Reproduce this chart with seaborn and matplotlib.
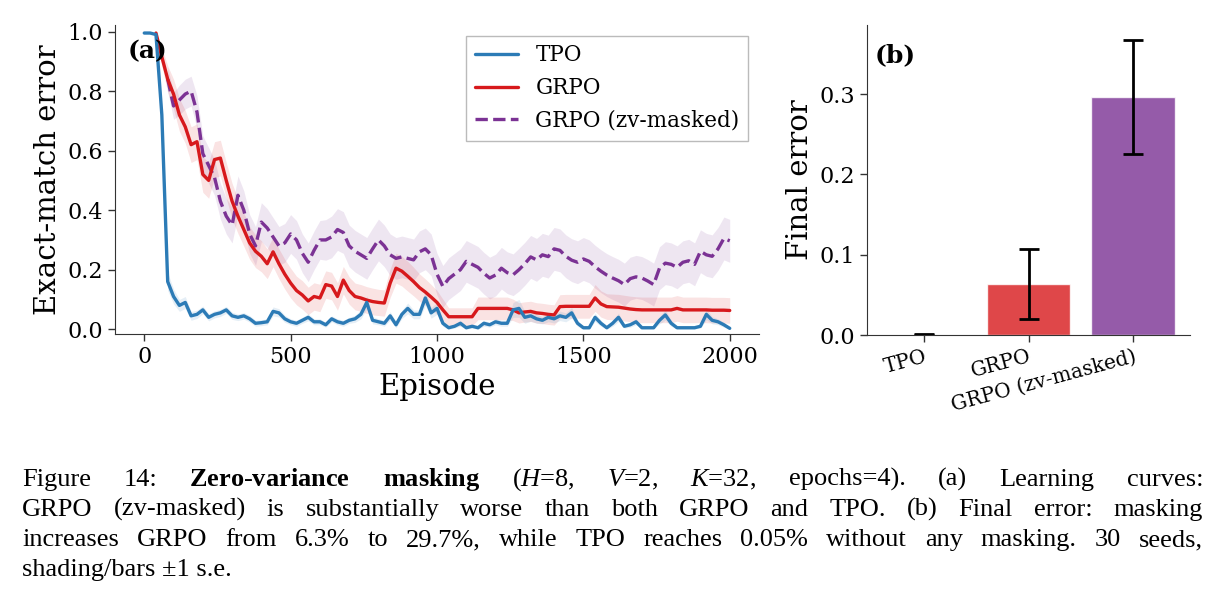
#!/usr/bin/env python3
"""
Zero-variance masking: learning curves (a) and final error bars (b)
"""

import numpy as np
import pandas as pd
import matplotlib
matplotlib.use("Agg")
import matplotlib.pyplot as plt
import seaborn as sns

# ---- Datos ----
episodes = np.arange(0, 2001, 20)

tpo_err = [
    0.995, 0.995, 0.99, 0.72, 0.16, 0.11, 0.08, 0.09, 0.045, 0.05,
    0.065, 0.04, 0.05, 0.055, 0.065, 0.045, 0.04, 0.045, 0.035, 0.02,
    0.022, 0.025, 0.06, 0.055, 0.035, 0.025, 0.02, 0.03, 0.04, 0.025,
    0.025, 0.015, 0.035, 0.025, 0.02, 0.03, 0.035, 0.05, 0.09, 0.03,
    0.025, 0.02, 0.045, 0.015, 0.05, 0.07, 0.05, 0.05, 0.105, 0.055,
    0.07, 0.02, 0.005, 0.01, 0.02, 0.005, 0.01, 0.005, 0.02, 0.015,
    0.025, 0.02, 0.02, 0.065, 0.07, 0.04, 0.045, 0.035, 0.03, 0.04,
    0.035, 0.045, 0.04, 0.055, 0.02, 0.005, 0.005, 0.04, 0.02, 0.005,
    0.02, 0.04, 0.01, 0.015, 0.025, 0.005, 0.005, 0.005, 0.03, 0.048,
    0.02, 0.005, 0.005, 0.005, 0.005, 0.01, 0.05, 0.03, 0.025, 0.015,
    0.003,
]
tpo_se = [
    0.002, 0.002, 0.004, 0.03, 0.03, 0.025, 0.02, 0.02, 0.015, 0.014,
    0.013, 0.012, 0.012, 0.012, 0.012, 0.012, 0.011, 0.011, 0.011, 0.01,
    0.01, 0.01, 0.015, 0.014, 0.012, 0.01, 0.01, 0.01, 0.012, 0.01,
    0.01, 0.008, 0.01, 0.01, 0.01, 0.01, 0.012, 0.015, 0.022, 0.012,
    0.01, 0.01, 0.014, 0.01, 0.014, 0.018, 0.015, 0.015, 0.025, 0.018,
    0.02, 0.01, 0.005, 0.006, 0.01, 0.005, 0.006, 0.005, 0.01, 0.008,
    0.01, 0.01, 0.01, 0.025, 0.03, 0.02, 0.018, 0.015, 0.012, 0.015,
    0.014, 0.016, 0.015, 0.018, 0.01, 0.005, 0.005, 0.014, 0.01, 0.005,
    0.01, 0.014, 0.006, 0.008, 0.01, 0.004, 0.004, 0.004, 0.012, 0.018,
    0.01, 0.004, 0.004, 0.004, 0.004, 0.006, 0.018, 0.012, 0.01, 0.008,
    0.002,
]

# GRPO empieza en el episodio 40
grpo_ep = episodes[2:]
grpo_err = [
    0.995, 0.915, 0.84, 0.79, 0.72, 0.68, 0.62, 0.63, 0.52, 0.50,
    0.57, 0.575, 0.50, 0.43, 0.38, 0.335, 0.29, 0.262, 0.245, 0.22,
    0.26, 0.22, 0.185, 0.155, 0.13, 0.115, 0.095, 0.11, 0.105, 0.15,
    0.145, 0.11, 0.165, 0.13, 0.11, 0.105, 0.098, 0.093, 0.09, 0.088,
    0.155, 0.205, 0.195, 0.178, 0.16, 0.14, 0.125, 0.108, 0.09, 0.065,
    0.042, 0.042, 0.042, 0.042, 0.042, 0.07, 0.07, 0.07, 0.07, 0.07,
    0.07, 0.065, 0.055, 0.058, 0.06, 0.055, 0.053, 0.05, 0.048, 0.076,
    0.077, 0.077, 0.077, 0.077, 0.077, 0.105, 0.085, 0.076, 0.075, 0.074,
    0.071, 0.068, 0.066, 0.065, 0.065, 0.065, 0.065, 0.065, 0.065, 0.07,
    0.065, 0.065, 0.065, 0.065, 0.065, 0.064, 0.064, 0.064, 0.063,
]
grpo_se = [
    0.005, 0.03, 0.045, 0.05, 0.055, 0.055, 0.06, 0.06, 0.06, 0.06,
    0.06, 0.06, 0.06, 0.06, 0.058, 0.056, 0.055, 0.055, 0.052, 0.05,
    0.05, 0.05, 0.05, 0.05, 0.048, 0.048, 0.046, 0.046, 0.046, 0.046,
    0.046, 0.046, 0.046, 0.046, 0.045, 0.045, 0.045, 0.045, 0.044, 0.044,
    0.048, 0.05, 0.05, 0.05, 0.048, 0.046, 0.044, 0.042, 0.04, 0.036,
    0.03, 0.03, 0.03, 0.03, 0.03, 0.038, 0.038, 0.038, 0.038, 0.038,
    0.038, 0.036, 0.034, 0.034, 0.034, 0.034, 0.034, 0.034, 0.034, 0.04,
    0.04, 0.04, 0.04, 0.04, 0.04, 0.045, 0.044, 0.043, 0.043, 0.043,
    0.043, 0.043, 0.043, 0.043, 0.043, 0.043, 0.043, 0.043, 0.043, 0.043,
    0.043, 0.043, 0.043, 0.043, 0.043, 0.043, 0.043, 0.043, 0.043,
]

# GRPO (zv-masked) empieza en el episodio 80
zv_ep = episodes[4:]
zv_err = [
    0.84, 0.75, 0.77, 0.79, 0.80, 0.73, 0.59, 0.55, 0.51, 0.43,
    0.38, 0.35, 0.45, 0.40, 0.32, 0.28, 0.36, 0.34, 0.31, 0.28,
    0.29, 0.32, 0.30, 0.255, 0.225, 0.265, 0.30, 0.30, 0.31, 0.335,
    0.325, 0.28, 0.262, 0.25, 0.238, 0.27, 0.30, 0.28, 0.25, 0.238,
    0.243, 0.238, 0.233, 0.26, 0.27, 0.25, 0.185, 0.144, 0.17, 0.185,
    0.20, 0.228, 0.218, 0.208, 0.188, 0.172, 0.182, 0.205, 0.19, 0.183,
    0.20, 0.22, 0.243, 0.233, 0.25, 0.244, 0.27, 0.265, 0.245, 0.232,
    0.225, 0.236, 0.228, 0.21, 0.195, 0.182, 0.172, 0.163, 0.15, 0.17,
    0.176, 0.172, 0.162, 0.15, 0.205, 0.222, 0.218, 0.208, 0.225, 0.23,
    0.218, 0.262, 0.25, 0.245, 0.27, 0.305, 0.297,
]
zv_se = [
    0.04, 0.045, 0.05, 0.05, 0.05, 0.055, 0.06, 0.06, 0.06, 0.06,
    0.06, 0.06, 0.065, 0.065, 0.065, 0.065, 0.065, 0.065, 0.065, 0.065,
    0.065, 0.065, 0.065, 0.065, 0.065, 0.065, 0.065, 0.068, 0.07, 0.07,
    0.07, 0.07, 0.07, 0.07, 0.07, 0.07, 0.07, 0.07, 0.07, 0.07,
    0.07, 0.07, 0.07, 0.07, 0.07, 0.07, 0.07, 0.07, 0.07, 0.07,
    0.07, 0.07, 0.07, 0.07, 0.07, 0.07, 0.07, 0.07, 0.07, 0.07,
    0.072, 0.072, 0.072, 0.072, 0.072, 0.072, 0.072, 0.072, 0.072, 0.072,
    0.072, 0.072, 0.072, 0.072, 0.072, 0.072, 0.072, 0.072, 0.072, 0.072,
    0.072, 0.072, 0.072, 0.072, 0.072, 0.072, 0.072, 0.072, 0.072, 0.072,
    0.072, 0.072, 0.072, 0.072, 0.072, 0.072, 0.072,
]

methods = ["TPO", "GRPO", "GRPO (zv-masked)"]
final_err = [0.0005, 0.063, 0.296]
final_se = [0.0005, 0.0435, 0.071]

colors = {"TPO": "#2c7bb6", "GRPO": "#d7191c", "GRPO (zv-masked)": "#7b3294"}

caption_lines = [
    r"Figure 14:  $\mathbf{Zero}$-$\mathbf{variance}$ $\mathbf{masking}$ ($H$=8, $V$=2, $K$=32, epochs=4).  (a) Learning curves:",
    "GRPO (zv-masked) is substantially worse than both GRPO and TPO. (b) Final error: masking",
    "increases GRPO from 6.3% to 29.7%, while TPO reaches 0.05% without any masking. 30 seeds,",
    "shading/bars \u00b11 s.e.",
]

# ---- Estilo ----
sns.set_style("ticks")
plt.rcParams["font.family"] = ["DejaVu Serif"]
plt.rcParams["text.color"] = "black"
plt.rcParams["axes.labelcolor"] = "black"
plt.rcParams["xtick.color"] = "black"
plt.rcParams["ytick.color"] = "black"
plt.rcParams["mathtext.fontset"] = "custom"
plt.rcParams["mathtext.rm"] = "Liberation Serif"
plt.rcParams["mathtext.it"] = "Liberation Serif:italic"
plt.rcParams["mathtext.bf"] = "Liberation Serif:bold"

W, H = 1223, 605
fig = plt.figure(figsize=(W / 100, H / 100), dpi=100)
ax1 = fig.add_axes([115 / W, (H - 334) / H, 644 / W, 309 / H])
ax2 = fig.add_axes([867 / W, (H - 335) / H, 323 / W, 310 / H])

# ---- (a) curvas de aprendizaje ----
series = [
    ("GRPO (zv-masked)", zv_ep, zv_err, zv_se, 2),
    ("GRPO", grpo_ep, grpo_err, grpo_se, 3),
    ("TPO", episodes, tpo_err, tpo_se, 4),
]
for name, ep, err, se, z in series:
    df = pd.DataFrame({"episode": ep, "error": err})
    err = np.array(err)
    se = np.array(se)
    ax1.fill_between(ep, err - se, err + se, color=colors[name], alpha=0.12,
                     linewidth=0, zorder=1)
    sns.lineplot(data=df, x="episode", y="error", ax=ax1, color=colors[name],
                 linewidth=2.4, label=name, zorder=z,
                 linestyle="--" if "zv" in name else "-")

handles, labels = ax1.get_legend_handles_labels()
order = [labels.index(m) for m in methods]
leg = ax1.legend([handles[i] for i in order], [labels[i] for i in order],
                 loc="upper right", fontsize=15.5, fancybox=False,
                 framealpha=1, edgecolor="#bbbbbb", handlelength=2.0,
                 borderaxespad=0.5)
leg.get_frame().set_linewidth(1.0)

ax1.set_xlim(-100, 2100)
ax1.set_ylim(-0.016, 1.022)
ax1.set_xticks([0, 500, 1000, 1500, 2000])
ax1.set_yticks([0.0, 0.2, 0.4, 0.6, 0.8, 1.0])
ax1.set_xlabel("Episode", fontsize=21)
ax1.set_ylabel("Exact-match error", fontsize=21)
ax1.tick_params(labelsize=16)
ax1.text(0.02, 0.955, "(a)", transform=ax1.transAxes, fontsize=18,
         fontweight="bold", va="top", ha="left", zorder=10)

# ---- (b) error final ----
bar_df = pd.DataFrame({"method": methods, "final": final_err})
sns.barplot(data=bar_df, x="method", y="final", hue="method",
            palette=colors, alpha=0.8, saturation=1, width=0.8, ax=ax2,
            legend=False, errorbar=None)
ax2.errorbar(np.arange(len(methods)), final_err, yerr=final_se, fmt="none",
             ecolor="black", elinewidth=2, capsize=7, capthick=2)
ax2.set_ylim(0, 0.386)
ax2.set_yticks([0.0, 0.1, 0.2, 0.3])
ax2.set_xlabel("")
ax2.set_ylabel("Final error", fontsize=21)
ax2.tick_params(axis="y", labelsize=16)
ax2.tick_params(axis="x", labelsize=14.5)
for lab in ax2.get_xticklabels():
    lab.set_rotation(15)
    lab.set_ha("right")
    lab.set_rotation_mode("anchor")
ax2.text(0.025, 0.94, "(b)", transform=ax2.transAxes, fontsize=18,
         fontweight="bold", va="top", ha="left")

sns.despine(fig=fig)
for ax in (ax1, ax2):
    for sp in ax.spines.values():
        sp.set_color("#333333")
    ax.tick_params(length=5, width=1, color="#333333")

# ---- Pie de figura (justificado) ----
fig.canvas.draw()
renderer = fig.canvas.get_renderer()
left_px, right_px = 22, 1203
baselines = [486, 516, 546, 576]
cap_font = dict(family=["Liberation Serif"], fontsize=19)
for i, line in enumerate(caption_lines):
    yb = 1 - baselines[i] / H
    if i == len(caption_lines) - 1:
        fig.text(left_px / W, yb, line, va="baseline", ha="left", **cap_font)
        continue
    words = line.split()
    objs = [fig.text(0, yb, w, va="baseline", ha="left", **cap_font) for w in words]
    widths = [o.get_window_extent(renderer).width for o in objs]
    gap = (right_px - left_px - sum(widths)) / (len(words) - 1)
    x = left_px
    for o, w in zip(objs, widths):
        o.set_x(x / W)
        x += w + gap

fig.savefig("out.png", dpi=100)
print("ok")
